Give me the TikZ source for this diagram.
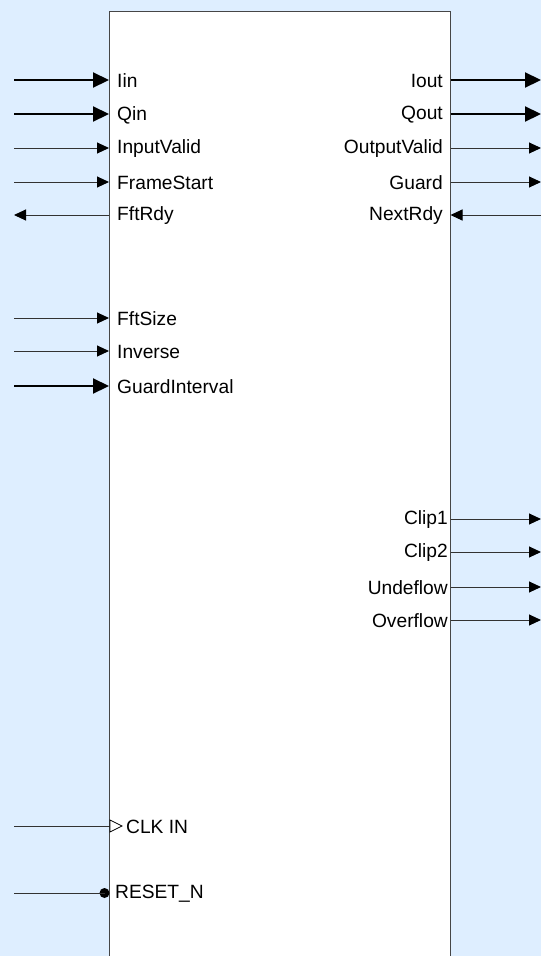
\documentclass[tikz,border=0pt]{standalone}
\usepackage{fontspec}
\setmainfont{Liberation Sans}
\usetikzlibrary{arrows.meta}
\definecolor{bg}{RGB}{222,238,255}
\definecolor{edge}{RGB}{70,70,70}
\definecolor{wire}{RGB}{50,50,50}
\tikzset{
  x=1pt,y=-1pt,
  lbl/.style={inner sep=0pt,font=\fontsize{19.2}{22}\selectfont},
  lblw/.style={lbl,anchor=west},
  lble/.style={lbl,anchor=east},
  busarr/.style={line width=2.2pt,black,-{Triangle[length=16pt,width=15pt]}},
  sigarr/.style={line width=1pt,wire,-{Triangle[length=12pt,width=11pt,color=black]}},
  plainwire/.style={line width=1pt,wire},
}
\begin{document}
\begin{tikzpicture}
\useasboundingbox (0,0) rectangle (541,956);
\fill[bg] (0,0) rectangle (541,956);
\node[draw=edge,line width=1.3pt,fill=white,minimum width=341pt,minimum height=960pt,anchor=north west,inner sep=0pt] (blk) at (109,11) {};

% left ports
\foreach \n/\y in {Iin/80,Qin/114,InputValid/148,FrameStart/182,FftRdy/215,FftSize/318,Inverse/351,GuardInterval/386}{
  \coordinate (s\n) at (14,\y);
  \coordinate (p\n) at (109,\y);
  \node[lblw] (l\n) at (117,\y+1) {\n};
}
\draw[busarr] (sIin) -- (pIin);
\draw[busarr] (sQin) -- (pQin);
\draw[sigarr] (sInputValid) -- (pInputValid);
\draw[sigarr] (sFrameStart) -- (pFrameStart);
\draw[sigarr] (pFftRdy) -- (sFftRdy);
\draw[sigarr] (sFftSize) -- (pFftSize);
\draw[sigarr] (sInverse) -- (pInverse);
\draw[busarr] (sGuardInterval) -- (pGuardInterval);

% right ports
\foreach \n/\y in {Iout/80,Qout/114,OutputValid/148,Guard/182,NextRdy/215}{
  \coordinate (q\n) at (450.5,\y);
  \coordinate (e\n) at (541,\y);
  \node[lble] (l\n) at (443,\y+1) {\n};
}
\foreach \n/\y in {Clip1/519,Clip2/552,Undeflow/587,Overflow/620}{
  \coordinate (q\n) at (450.5,\y);
  \coordinate (e\n) at (541,\y);
  \node[lble] (l\n) at (448,\y+1) {\n};
}
\draw[busarr] (qIout) -- (eIout);
\draw[busarr] (qQout) -- (eQout);
\draw[sigarr] (qOutputValid) -- (eOutputValid);
\draw[sigarr] (qGuard) -- (eGuard);
\draw[sigarr] (eNextRdy) -- (qNextRdy);
\draw[sigarr] (qClip1) -- (eClip1);
\draw[sigarr] (qClip2) -- (eClip2);
\draw[sigarr] (qUndeflow) -- (eUndeflow);
\draw[sigarr] (qOverflow) -- (eOverflow);

% clock
\coordinate (sClk) at (14,826);
\coordinate (pClk) at (109.5,826);
\draw[plainwire] (sClk) -- (pClk);
\draw[line width=0.8pt,black,fill=white] (110,820) -- (122,826) -- (110,832) -- cycle;
\node[lblw] (lClk) at (126,827) {CLK IN};

% reset
\coordinate (sRst) at (14,893);
\node[circle,fill=black,inner sep=0pt,minimum size=10pt] (dRst) at (104.5,893) {};
\draw[plainwire] (sRst) -- (dRst.center);
\node[lblw] (lRst) at (115,894) {RESET\_N};
\end{tikzpicture}
\end{document}
